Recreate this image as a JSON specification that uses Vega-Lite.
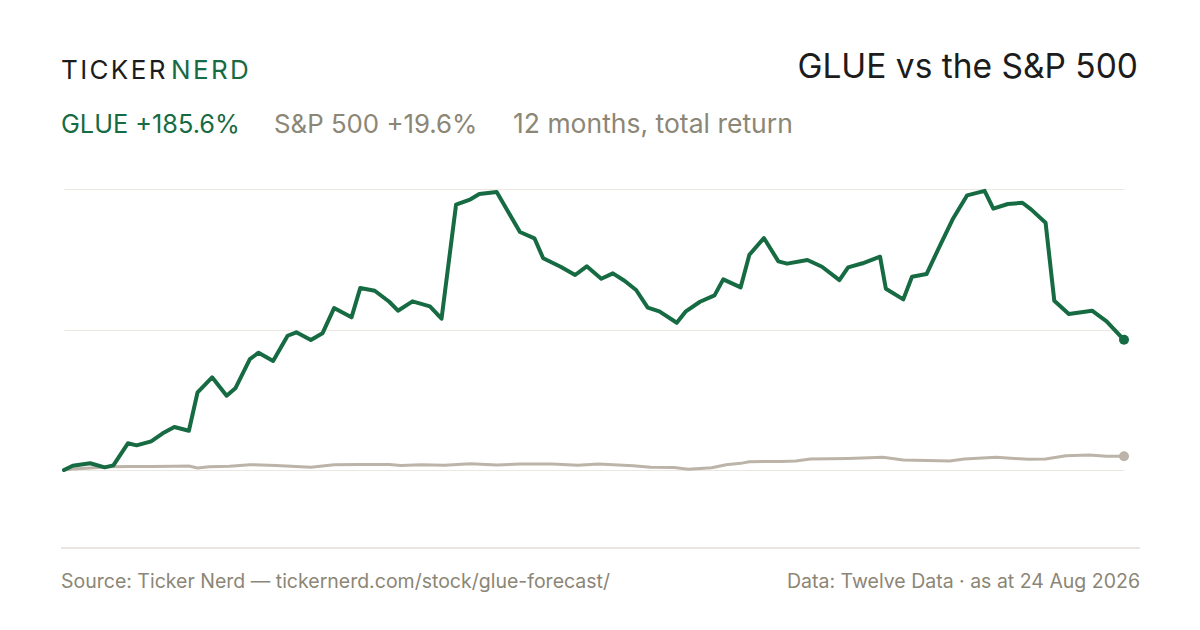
{
  "$schema": "https://vega.github.io/schema/vega-lite/v6.json",
  "width": 1060,
  "height": 360,
  "autosize": {"type": "none"},
  "padding": {"left": 64, "top": 170, "right": 76, "bottom": 100},
  "background": "#ffffff",
  "config": {
    "view": {"stroke": null},
    "font": "Inter",
    "text": {"font": "Inter"}
  },
  "data": {
    "values": [
      {"series": "S&P 500", "day": 0, "ret": 0},
      {"series": "S&P 500", "day": 3, "ret": 1.5},
      {"series": "S&P 500", "day": 9, "ret": 3},
      {"series": "S&P 500", "day": 16, "ret": 4.5},
      {"series": "S&P 500", "day": 23, "ret": 5},
      {"series": "S&P 500", "day": 30, "ret": 5},
      {"series": "S&P 500", "day": 38, "ret": 5.5},
      {"series": "S&P 500", "day": 43, "ret": 5.7},
      {"series": "S&P 500", "day": 46, "ret": 2.8},
      {"series": "S&P 500", "day": 50, "ret": 4.5},
      {"series": "S&P 500", "day": 57, "ret": 5.5},
      {"series": "S&P 500", "day": 64, "ret": 7.6},
      {"series": "S&P 500", "day": 73, "ret": 6.5},
      {"series": "S&P 500", "day": 85, "ret": 3.8},
      {"series": "S&P 500", "day": 93, "ret": 7.6},
      {"series": "S&P 500", "day": 102, "ret": 8},
      {"series": "S&P 500", "day": 112, "ret": 8},
      {"series": "S&P 500", "day": 116, "ret": 6.5},
      {"series": "S&P 500", "day": 123, "ret": 7.6},
      {"series": "S&P 500", "day": 131, "ret": 6.7},
      {"series": "S&P 500", "day": 140, "ret": 9},
      {"series": "S&P 500", "day": 149, "ret": 7},
      {"series": "S&P 500", "day": 157, "ret": 8.6},
      {"series": "S&P 500", "day": 168, "ret": 8.6},
      {"series": "S&P 500", "day": 177, "ret": 6.7},
      {"series": "S&P 500", "day": 184, "ret": 8.6},
      {"series": "S&P 500", "day": 196, "ret": 6.1},
      {"series": "S&P 500", "day": 202, "ret": 3.8},
      {"series": "S&P 500", "day": 210, "ret": 3.6},
      {"series": "S&P 500", "day": 215, "ret": 1},
      {"series": "S&P 500", "day": 223, "ret": 3.3},
      {"series": "S&P 500", "day": 228, "ret": 7.6},
      {"series": "S&P 500", "day": 233, "ret": 9.5},
      {"series": "S&P 500", "day": 236, "ret": 11.9},
      {"series": "S&P 500", "day": 247, "ret": 12.3},
      {"series": "S&P 500", "day": 252, "ret": 12.8},
      {"series": "S&P 500", "day": 257, "ret": 15.7},
      {"series": "S&P 500", "day": 270, "ret": 16.6},
      {"series": "S&P 500", "day": 282, "ret": 18.1},
      {"series": "S&P 500", "day": 289, "ret": 14.3},
      {"series": "S&P 500", "day": 305, "ret": 12.8},
      {"series": "S&P 500", "day": 310, "ret": 15.7},
      {"series": "S&P 500", "day": 321, "ret": 18.1},
      {"series": "S&P 500", "day": 332, "ret": 15.2},
      {"series": "S&P 500", "day": 338, "ret": 15.7},
      {"series": "S&P 500", "day": 345, "ret": 20.4},
      {"series": "S&P 500", "day": 353, "ret": 21.4},
      {"series": "S&P 500", "day": 359, "ret": 19.5},
      {"series": "S&P 500", "day": 365, "ret": 19.6},
      {"series": "GLUE", "day": 0, "ret": 0},
      {"series": "GLUE", "day": 3, "ret": 6.1},
      {"series": "GLUE", "day": 9, "ret": 9.6},
      {"series": "GLUE", "day": 14, "ret": 3.8},
      {"series": "GLUE", "day": 17, "ret": 6.7},
      {"series": "GLUE", "day": 22, "ret": 38.1},
      {"series": "GLUE", "day": 25, "ret": 35.2},
      {"series": "GLUE", "day": 30, "ret": 40.9},
      {"series": "GLUE", "day": 34, "ret": 52.3},
      {"series": "GLUE", "day": 38, "ret": 61.3},
      {"series": "GLUE", "day": 43, "ret": 56},
      {"series": "GLUE", "day": 46, "ret": 110.8},
      {"series": "GLUE", "day": 51, "ret": 132.1},
      {"series": "GLUE", "day": 56, "ret": 105.9},
      {"series": "GLUE", "day": 59, "ret": 116.5},
      {"series": "GLUE", "day": 64, "ret": 158.2},
      {"series": "GLUE", "day": 67, "ret": 167.2},
      {"series": "GLUE", "day": 72, "ret": 155.4},
      {"series": "GLUE", "day": 77, "ret": 191.4},
      {"series": "GLUE", "day": 80, "ret": 196.3},
      {"series": "GLUE", "day": 85, "ret": 185.3},
      {"series": "GLUE", "day": 89, "ret": 194.9},
      {"series": "GLUE", "day": 93, "ret": 230.9},
      {"series": "GLUE", "day": 99, "ret": 217.7},
      {"series": "GLUE", "day": 102, "ret": 259.4},
      {"series": "GLUE", "day": 107, "ret": 255.6},
      {"series": "GLUE", "day": 112, "ret": 239.9},
      {"series": "GLUE", "day": 115, "ret": 227.1},
      {"series": "GLUE", "day": 120, "ret": 240.5},
      {"series": "GLUE", "day": 126, "ret": 233.4},
      {"series": "GLUE", "day": 130, "ret": 215.7},
      {"series": "GLUE", "day": 135, "ret": 378.2},
      {"series": "GLUE", "day": 140, "ret": 385.9},
      {"series": "GLUE", "day": 143, "ret": 393.4},
      {"series": "GLUE", "day": 149, "ret": 396.3},
      {"series": "GLUE", "day": 157, "ret": 339.3},
      {"series": "GLUE", "day": 162, "ret": 330.3},
      {"series": "GLUE", "day": 165, "ret": 301.8},
      {"series": "GLUE", "day": 171, "ret": 289.8},
      {"series": "GLUE", "day": 176, "ret": 278},
      {"series": "GLUE", "day": 180, "ret": 290.4},
      {"series": "GLUE", "day": 185, "ret": 272.7},
      {"series": "GLUE", "day": 189, "ret": 280.4},
      {"series": "GLUE", "day": 193, "ret": 269.9},
      {"series": "GLUE", "day": 197, "ret": 256.6},
      {"series": "GLUE", "day": 201, "ret": 231.4},
      {"series": "GLUE", "day": 205, "ret": 226.2},
      {"series": "GLUE", "day": 211, "ret": 210},
      {"series": "GLUE", "day": 214, "ret": 225.7},
      {"series": "GLUE", "day": 219, "ret": 239.9},
      {"series": "GLUE", "day": 224, "ret": 249},
      {"series": "GLUE", "day": 227, "ret": 271.8},
      {"series": "GLUE", "day": 233, "ret": 260.4},
      {"series": "GLUE", "day": 236, "ret": 306.9},
      {"series": "GLUE", "day": 241, "ret": 330.7},
      {"series": "GLUE", "day": 246, "ret": 297.5},
      {"series": "GLUE", "day": 249, "ret": 294.2},
      {"series": "GLUE", "day": 256, "ret": 299.4},
      {"series": "GLUE", "day": 261, "ret": 289.8},
      {"series": "GLUE", "day": 267, "ret": 270.8},
      {"series": "GLUE", "day": 270, "ret": 288.9},
      {"series": "GLUE", "day": 275, "ret": 294.7},
      {"series": "GLUE", "day": 281, "ret": 304.1},
      {"series": "GLUE", "day": 283, "ret": 258.4},
      {"series": "GLUE", "day": 289, "ret": 243.3},
      {"series": "GLUE", "day": 292, "ret": 275.6},
      {"series": "GLUE", "day": 297, "ret": 279.4},
      {"series": "GLUE", "day": 302, "ret": 323.2},
      {"series": "GLUE", "day": 306, "ret": 357.4},
      {"series": "GLUE", "day": 311, "ret": 391.6},
      {"series": "GLUE", "day": 317, "ret": 398},
      {"series": "GLUE", "day": 320, "ret": 372.5},
      {"series": "GLUE", "day": 325, "ret": 379.2},
      {"series": "GLUE", "day": 330, "ret": 381},
      {"series": "GLUE", "day": 333, "ret": 371.6},
      {"series": "GLUE", "day": 338, "ret": 352.5},
      {"series": "GLUE", "day": 341, "ret": 241.3},
      {"series": "GLUE", "day": 346, "ret": 222.4},
      {"series": "GLUE", "day": 354, "ret": 227.1},
      {"series": "GLUE", "day": 359, "ret": 212},
      {"series": "GLUE", "day": 365, "ret": 185.6}
    ]
  },
  "encoding": {
    "x": {
      "field": "day",
      "type": "quantitative",
      "scale": {"domain": [0, 365], "nice": false, "zero": false},
      "axis": null
    },
    "y": {
      "field": "ret",
      "type": "quantitative",
      "scale": {"domain": [-85.5, 427.7], "nice": false, "zero": false},
      "axis": {
        "values": [0, 200, 400],
        "labels": false,
        "ticks": false,
        "domain": false,
        "title": null,
        "grid": true,
        "gridColor": "#ebe8e2",
        "gridWidth": 1
      }
    }
  },
  "layer": [
    {
      "transform": [{"filter": "datum.series === 'S&P 500'"}],
      "mark": {"type": "line", "color": "#bcb4a8", "strokeWidth": 3, "strokeJoin": "round", "strokeCap": "round"}
    },
    {
      "transform": [{"filter": "datum.series === 'GLUE'"}],
      "mark": {"type": "line", "color": "#176b43", "strokeWidth": 4, "strokeJoin": "round", "strokeCap": "round"}
    },
    {
      "transform": [{"filter": "datum.day === 365"}],
      "mark": {"type": "point", "filled": true, "opacity": 1, "size": 100},
      "encoding": {
        "color": {
          "field": "series",
          "type": "nominal",
          "scale": {"domain": ["GLUE", "S&P 500"], "range": ["#176b43", "#bcb4a8"]},
          "legend": null
        }
      }
    },
    {
      "data": {"values": [{}]},
      "mark": {"type": "text", "text": "T\u200aI\u200aC\u200aK\u200aE\u200aR", "align": "left", "baseline": "alphabetic", "fontSize": 26, "color": "#1c1c1c"},
      "encoding": {"x": {"value": -3}, "y": {"value": -91}}
    },
    {
      "data": {"values": [{}]},
      "mark": {"type": "text", "text": "N\u200aE\u200aR\u200aD", "align": "left", "baseline": "alphabetic", "fontSize": 26, "color": "#176b43"},
      "encoding": {"x": {"value": 107}, "y": {"value": -91}}
    },
    {
      "data": {"values": [{}]},
      "mark": {"type": "text", "text": "GLUE vs the S&P 500", "align": "right", "baseline": "alphabetic", "fontSize": 33.5, "color": "#1c1c1c"},
      "encoding": {"x": {"value": 1074}, "y": {"value": -92}}
    },
    {
      "data": {"values": [{}]},
      "mark": {"type": "text", "text": "GLUE +185.6%", "align": "left", "baseline": "alphabetic", "fontSize": 25.3, "color": "#176b43"},
      "encoding": {"x": {"value": -3}, "y": {"value": -37}}
    },
    {
      "data": {"values": [{}]},
      "mark": {"type": "text", "text": "S&P 500 +19.6%", "align": "left", "baseline": "alphabetic", "fontSize": 25.8, "color": "#8c8676"},
      "encoding": {"x": {"value": 210}, "y": {"value": -37}}
    },
    {
      "data": {"values": [{}]},
      "mark": {"type": "text", "text": "12 months, total return", "align": "left", "baseline": "alphabetic", "fontSize": 26.5, "color": "#8c8676"},
      "encoding": {"x": {"value": 449}, "y": {"value": -37}}
    },
    {
      "data": {"values": [{}]},
      "mark": {"type": "rule", "color": "#e2ded5", "strokeWidth": 1.5},
      "encoding": {"x": {"value": -3}, "x2": {"value": 1076}, "y": {"value": 378}}
    },
    {
      "data": {"values": [{}]},
      "mark": {"type": "text", "text": "Source: Ticker Nerd \u2014 tickernerd.com/stock/glue-forecast/", "align": "left", "baseline": "alphabetic", "fontSize": 19.5, "color": "#8c8676"},
      "encoding": {"x": {"value": -3}, "y": {"value": 418}}
    },
    {
      "data": {"values": [{}]},
      "mark": {"type": "text", "text": "Data: Twelve Data \u00b7 as at 24 Aug 2026", "align": "right", "baseline": "alphabetic", "fontSize": 19.5, "color": "#8c8676"},
      "encoding": {"x": {"value": 1076}, "y": {"value": 418}}
    }
  ]
}
